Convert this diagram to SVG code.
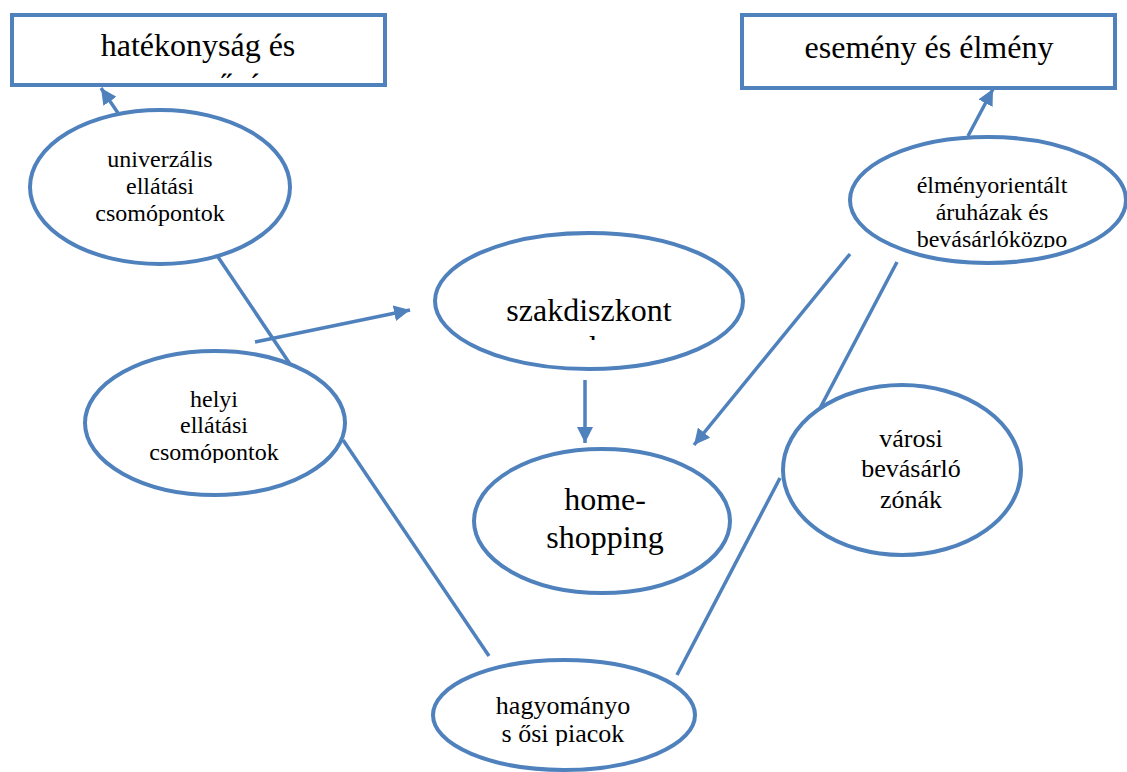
<svg xmlns="http://www.w3.org/2000/svg" width="1127" height="772" viewBox="0 0 1127 772">
<style>
.sh{fill:#ffffff;stroke:#4f81bd;stroke-width:4}
.ln{fill:none;stroke:#4f81bd;stroke-width:3.5}
text{font-family:"Liberation Serif","Times New Roman",serif;fill:#000;text-anchor:middle}
.b{font-size:32px}
.s{font-size:24px}
.m{font-size:26px}
</style>
<defs>
<marker id="ah" markerUnits="userSpaceOnUse" markerWidth="18" markerHeight="16" refX="16" refY="8" orient="auto">
<path d="M0,0 L16,8 L0,16 Z" fill="#4f81bd"/>
</marker>
<clipPath id="c1"><rect x="0" y="0" width="1127" height="78"/></clipPath>
<clipPath id="c2"><rect x="0" y="0" width="1127" height="340"/></clipPath>
<clipPath id="c3"><rect x="0" y="0" width="1127" height="463"/></clipPath>
<clipPath id="c4"><rect x="0" y="0" width="1127" height="248"/></clipPath>
<clipPath id="c5"><rect x="0" y="0" width="1127" height="746"/></clipPath>
</defs>
<g id="connectors">
<line class="ln" x1="118" y1="113" x2="101" y2="88" marker-end="url(#ah)"/>
<line class="ln" x1="218" y1="257" x2="290" y2="364"/>
<line class="ln" x1="255" y1="342" x2="410" y2="310" marker-end="url(#ah)"/>
<line class="ln" x1="343" y1="440" x2="489" y2="656"/>
<line class="ln" x1="585" y1="380" x2="585" y2="443" marker-end="url(#ah)"/>
<line class="ln" x1="850" y1="254" x2="694" y2="445" marker-end="url(#ah)"/>
<line class="ln" x1="897" y1="262" x2="818" y2="412"/>
<line class="ln" x1="780" y1="478" x2="677" y2="675"/>
<line class="ln" x1="968" y1="136" x2="993" y2="89" marker-end="url(#ah)"/>
</g>
<g id="box-hatekonysag">
<rect class="sh" x="12" y="15" width="373" height="70"/>
<text class="b" x="198" y="56">hatékonyság és</text>
<text class="b" x="198" y="96" clip-path="url(#c1)">egyszerűség</text>
</g>
<g id="box-esemeny">
<rect class="sh" x="742" y="15" width="373" height="73"/>
<text class="b" x="929" y="58">esemény és élmény</text>
</g>
<g id="node-univerzalis">
<ellipse class="sh" cx="160" cy="187" rx="130" ry="77"/>
<text class="s" x="160" y="167">univerzális</text>
<text class="s" x="160" y="194">ellátási</text>
<text class="s" x="160" y="221">csomópontok</text>
</g>
<g id="node-helyi">
<ellipse class="sh" cx="215" cy="423" rx="130" ry="72"/>
<text class="s" x="214" y="407">helyi</text>
<text class="s" x="214" y="433">ellátási</text>
<text class="s" x="214" y="460" clip-path="url(#c3)">csomópontok</text>
</g>
<g id="node-szakdiszkont">
<ellipse class="sh" cx="589" cy="301" rx="154" ry="68"/>
<text class="b" x="589" y="321">szakdiszkont</text>
<text class="b" x="589" y="358" clip-path="url(#c2)">ok</text>
</g>
<g id="node-homeshopping">
<ellipse class="sh" cx="602" cy="521" rx="128" ry="72"/>
<text class="b" x="605" y="510">home-</text>
<text class="b" x="605" y="548">shopping</text>
</g>
<g id="node-elmenyorientalt">
<ellipse class="sh" cx="988" cy="200" rx="138" ry="63"/>
<text class="s" x="992" y="193">élményorientált</text>
<text class="s" x="992" y="220">áruházak és</text>
<text class="s" x="992" y="247" clip-path="url(#c4)">bevásárlóközpo</text>
</g>
<g id="node-varosi">
<ellipse class="sh" cx="902" cy="470" rx="119" ry="85"/>
<text class="m" x="911" y="447">városi</text>
<text class="m" x="911" y="477">bevásárló</text>
<text class="m" x="911" y="508">zónák</text>
</g>
<g id="node-hagyomanyos">
<ellipse class="sh" cx="564" cy="715" rx="131" ry="55"/>
<text class="m" x="563" y="714">hagyományo</text>
<text class="m" x="563" y="742" clip-path="url(#c5)">s ősi piacok</text>
</g>
</svg>
